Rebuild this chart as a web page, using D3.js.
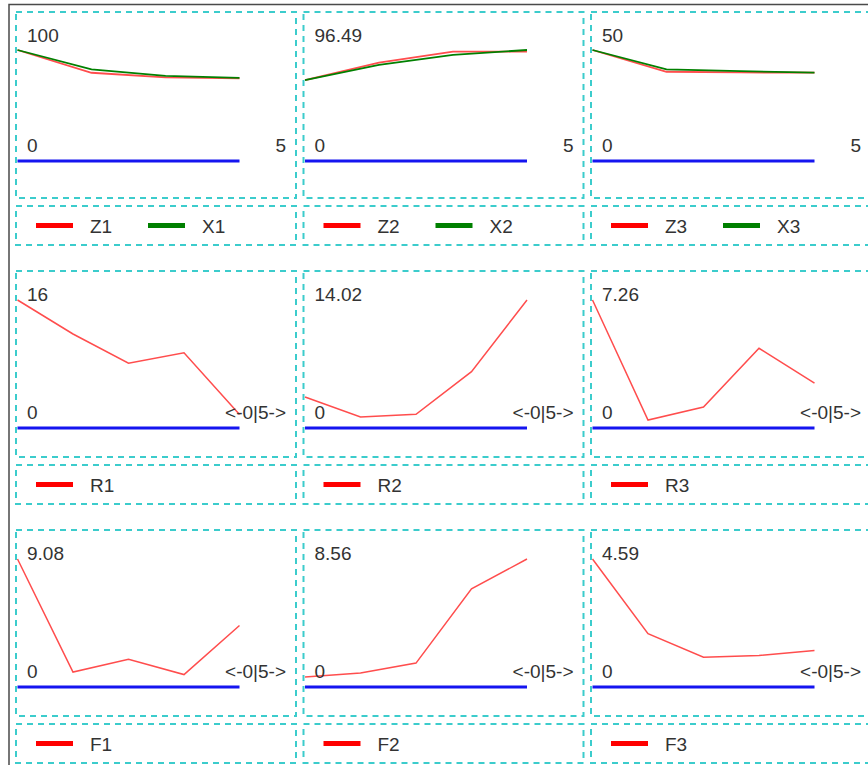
<!DOCTYPE html>
<html>
<head>
<meta charset="utf-8">
<script src="https://cdn.jsdelivr.net/npm/d3@7"></script>
<style>
  body { margin: 0; background: #fff; }
  svg { display: block; font-family: 'Liberation Sans', Arial, sans-serif; }
  .lbl { fill: #333; font-size: 19px; }
</style>
</head>
<body>
<div id="panels"></div>
<script>
// series values
const z1 = [100, 79.5, 75.4, 74.5]
const x1 = [100, 82.6, 76.6, 74.8]
const z2 = [70.4, 85.5, 95.0, 95.0]
const x2 = [70.4, 83.5, 92.2, 96.49]
const z3 = [50, 40.2, 39.9, 39.8]
const x3 = [50, 41.3, 40.5, 39.8]
const r1 = [16, 11.75, 8.1, 9.4, 1.7]
const r2 = [3.4, 1.2, 1.5, 6.17, 14.02]
const r3 = [7.26, 0.45, 1.19, 4.52, 2.54]
const f1 = [9.08, 1.06, 1.96, 0.88, 4.36]
const f2 = [0.67, 0.93, 1.6, 6.56, 8.56]
const f3 = [4.59, 1.91, 1.07, 1.13, 1.31]

// labels
const maxLabels = ['100', '96.49', '50', '16', '14.02', '7.26', '9.08', '8.56', '4.59']
const seriesNames = [['Z1', 'X1'], ['Z2', 'X2'], ['Z3', 'X3'], ['R1'], ['R2'], ['R3'], ['F1'], ['F2'], ['F3']]
const seriesData = [[z1, x1], [z2, x2], [z3, x3], [r1], [r2], [r3], [f1], [f2], [f3]]
const endLabels = ['5', '<-0|5->', '<-0|5->']

const lineColors = ['#ff4d4d', 'green']
const swatchColors = ['red', 'green']

const width = 868
const height = 765
const boxW = 280
const chartH = 186
const legendH = 39

const svg = d3.select('#panels')
  .append('svg')
  .attr('width', width)
  .attr('height', height)

/**
 * Draws the dark frame round the page.
 */
function drawFrame () {
  svg.append('path')
    .attr('d', 'M9,' + height + 'V4.5H' + width)
    .attr('fill', 'none')
    .attr('stroke', '#4a4a4a')
    .attr('stroke-width', 1.5)
}

/**
 * Draws a dashed box.
 *
 * @param {*} g The svg group
 * @param {number} y The top of the box
 * @param {number} h The box height
 */
function dashedBox (g, y, h) {
  g.append('rect')
    .attr('x', 0)
    .attr('y', y)
    .attr('width', boxW)
    .attr('height', h)
    .attr('fill', 'none')
    .attr('stroke', '#3ccccc')
    .attr('stroke-width', 2)
    .attr('stroke-dasharray', '6 5')
}

/**
 * Draws one panel: the chart box and its legend box.
 *
 * @param {number} i The panel index
 */
function drawPanel (i) {
  const row = Math.floor(i / 3)
  const col = i % 3
  const g = svg.append('g')
    .attr('transform', 'translate(' + (16 + 287.5 * col) + ',' + (12 + 259 * row) + ')')

  dashedBox(g, 0, chartH)
  dashedBox(g, chartH + 8, legendH)

  const data = seriesData[i]
  const n = data[0].length
  const yTop = row === 0 ? 38 : 29
  const yZero = row === 0 ? 149 : 157

  const xScale = d3.scaleLinear().domain([0, n - 1]).range([1.5, 223.5])
  const yScale = d3.scaleLinear().domain([0, +maxLabels[i]]).range([yZero, yTop])

  // zero line
  g.append('line')
    .attr('x1', xScale(0))
    .attr('x2', xScale(n - 1))
    .attr('y1', yScale(0))
    .attr('y2', yScale(0))
    .attr('stroke', '#1515f0')
    .attr('stroke-width', 3)

  const line = d3.line()
    .x((d, k) => xScale(k))
    .y(d => yScale(d))

  data.forEach((values, s) => {
    g.append('path')
      .datum(values)
      .attr('d', line)
      .attr('fill', 'none')
      .attr('stroke', lineColors[s])
      .attr('stroke-width', row === 0 ? 1.8 : 1.5)
  })

  g.append('text').attr('class', 'lbl')
    .attr('x', 11).attr('y', 30)
    .text(maxLabels[i])
  g.append('text').attr('class', 'lbl')
    .attr('x', 11).attr('y', yScale(0) - 9)
    .text('0')
  g.append('text').attr('class', 'lbl')
    .attr('x', 270).attr('y', yScale(0) - 9)
    .attr('text-anchor', 'end')
    .text(endLabels[row])

  // legend
  const ly = chartH + 8 + legendH / 2
  seriesNames[i].forEach((name, s) => {
    const lx = 20 + 112 * s
    g.append('line')
      .attr('x1', lx).attr('x2', lx + 37)
      .attr('y1', ly).attr('y2', ly)
      .attr('stroke', swatchColors[s])
      .attr('stroke-width', 5)
    g.append('text').attr('class', 'lbl')
      .attr('x', lx + 54).attr('y', ly + 7)
      .text(name)
  })
}

drawFrame()
d3.range(9).forEach(drawPanel)
</script>
</body>
</html>
